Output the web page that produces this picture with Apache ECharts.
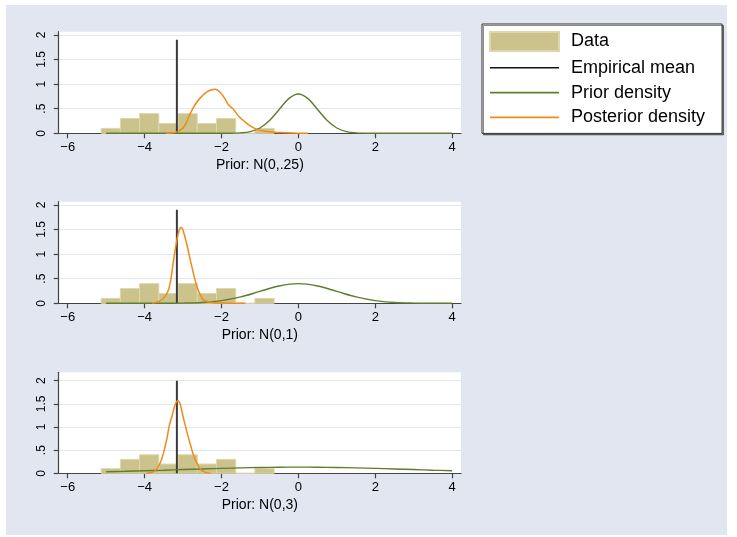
<!DOCTYPE html>
<html><head><meta charset="utf-8">
<script src="https://cdn.jsdelivr.net/npm/echarts@6/dist/echarts.min.js"></script>
<style>html,body{margin:0;padding:0;background:#fff}#c{width:737px;height:537px}</style>
</head><body><div id="c"></div>
<script>
// ---- data ----
var binLeft = [-5.13, -4.63, -4.13, -3.63, -3.13, -2.63, -2.13, -1.63, -1.13];
var binWidth = 0.5;
var binHeight = [0.1, 0.3, 0.4, 0.2, 0.4, 0.2, 0.3, 0, 0.1];
var empiricalMean = -3.16;
var meanLineTop = [1.9, 1.9, 2.0];
var panelTitles = ['Prior: N(0,.25)', 'Prior: N(0,1)', 'Prior: N(0,3)'];
var xTickValues = [-6, -4, -2, 0, 2, 4];
var xTickLabels = ['\u22126', '\u22124', '\u22122', '0', '2', '4'];
var yTickValues = [0, 0.5, 1, 1.5, 2];
var yTickLabels = ['0', '.5', '1', '1.5', '2'];

var prior1X = [-5, -2.5, -2, -1.75, -1.5, -1.25, -1, -0.75, -0.5, -0.25, 0, 0.25, 0.5, 0.75, 1, 1.25, 1.5, 1.75, 2, 2.5, 4];
var prior1Y = [0, 0, 0.0003, 0.002, 0.009, 0.035, 0.108, 0.26, 0.484, 0.704, 0.798, 0.704, 0.484, 0.26, 0.108, 0.035, 0.009, 0.002, 0.0003, 0, 0];
var prior2X = [-5, -4.5, -4, -3.5, -3, -2.5, -2, -1.5, -1, -0.5, 0, 0.5, 1, 1.5, 2, 2.5, 3, 3.5, 4];
var prior2Y = [0, 0, 0.0001, 0.0009, 0.0044, 0.0175, 0.054, 0.1295, 0.242, 0.352, 0.399, 0.352, 0.242, 0.1295, 0.054, 0.0175, 0.0044, 0.0009, 0.0001];
var prior3X = [-5, -4.5, -4, -3.5, -3, -2.5, -2, -1.5, -1, -0.5, 0, 0.5, 1, 1.5, 2, 2.5, 3, 3.5, 4];
var prior3Y = [0.033, 0.043, 0.055, 0.067, 0.081, 0.094, 0.106, 0.117, 0.126, 0.131, 0.133, 0.131, 0.126, 0.117, 0.106, 0.094, 0.081, 0.067, 0.055];

var post1X = [-3.45, -3.3, -3.16, -3.0, -2.9, -2.82, -2.68, -2.55, -2.38, -2.25, -2.16, -2.03, -1.9, -1.82, -1.69, -1.56, -1.43, -1.25, -1.08, -0.82, -0.47, -0.1, 0.25];
var post1Y = [0, 0.005, 0.03, 0.11, 0.24, 0.39, 0.59, 0.72, 0.84, 0.885, 0.894, 0.83, 0.69, 0.58, 0.49, 0.35, 0.26, 0.15, 0.08, 0.035, 0.015, 0.005, 0];
var post2X = [-3.8, -3.6, -3.47, -3.38, -3.32, -3.25, -3.16, -3.09, -3.05, -2.99, -2.90, -2.82, -2.73, -2.64, -2.55, -2.47, -2.29, -2.03, -1.7, -1.38];
var post2Y = [0, 0.05, 0.135, 0.27, 0.47, 0.85, 1.29, 1.51, 1.54, 1.46, 1.19, 0.91, 0.61, 0.34, 0.17, 0.07, 0.02, 0.005, 0.002, 0];
var post3X = [-3.95, -3.73, -3.6, -3.51, -3.42, -3.35, -3.29, -3.21, -3.135, -3.08, -2.99, -2.9, -2.82, -2.73, -2.64, -2.55, -2.42, -2.29];
var post3Y = [0, 0.05, 0.215, 0.43, 0.75, 1.06, 1.22, 1.47, 1.566, 1.51, 1.19, 0.9, 0.65, 0.4, 0.22, 0.09, 0.02, 0];

// ---- layout / style ----
var FONT = "'Liberation Sans', Arial, Helvetica, sans-serif";
var BAR_FILL = '#cbc38b', BAR_EDGE = '#ddd8ab';
var GREEN = '#5e7d2e', ORANGE = '#f08a1a', MEANC = '#3a3a3a';
var grids = [
  {left: 58.7, top: 31.7, width: 402.3, height: 101.6, ymax: 2.065},
  {left: 58.7, top: 201.7, width: 402.3, height: 101.6, ymax: 2.065},
  {left: 58.7, top: 372.3, width: 402.3, height: 101.0, ymax: 2.18}
];
var priorsX = [prior1X, prior2X, prior3X], priorsY = [prior1Y, prior2Y, prior3Y];
var postsX = [post1X, post2X, post3X], postsY = [post1Y, post2Y, post3Y];

function zip(a, b) { return a.map(function (v, i) { return [v, b[i]]; }); }
var histData = binLeft.map(function (l, i) { return [l, l + binWidth, binHeight[i]]; });

var LINE_ICON = 'path://M0,0L69,0L69,1.6L0,1.6Z';

var option = {
  backgroundColor: '#ffffff',
  animation: false,
  textStyle: {fontFamily: FONT},
  graphic: [{type: 'rect', z: -10, silent: true, shape: {x: 6, y: 5, width: 721, height: 530}, style: {fill: '#e1e6f0'}}],
  legend: {
    left: 482, top: 24, orient: 'vertical',
    backgroundColor: '#fff', borderColor: '#333', borderWidth: 1,
    shadowColor: 'rgba(0,0,0,0.45)', shadowOffsetX: 1.5, shadowOffsetY: 1.5, shadowBlur: 0,
    padding: [7, 17, 7, 7],
    itemWidth: 69, itemHeight: 19, itemGap: 6.8,
    symbolKeepAspect: true,
    textStyle: {fontSize: 18, color: '#000', fontFamily: FONT, padding: [0, 0, 0, 7]},
    selectedMode: false,
    data: [
      {name: 'Data', icon: 'rect'},
      {name: 'Empirical mean', icon: LINE_ICON, itemStyle: {color: '#111'}},
      {name: 'Prior density', icon: LINE_ICON, itemStyle: {color: GREEN}},
      {name: 'Posterior density', icon: LINE_ICON, itemStyle: {color: ORANGE}}
    ]
  },
  grid: [], xAxis: [], yAxis: [], series: []
};

grids.forEach(function (g, i) {
  option.grid.push({left: g.left, top: g.top, width: g.width, height: g.height, show: true, backgroundColor: '#fff', borderWidth: 0, containLabel: false});
  option.xAxis.push({
    type: 'value', gridIndex: i, min: -6.234, max: 4.23,
    name: panelTitles[i], nameLocation: 'middle', nameGap: 25,
    nameTextStyle: {fontSize: 14, color: '#000', fontFamily: FONT},
    axisLine: {show: true, onZero: false, lineStyle: {color: '#444', width: 1.2}},
    axisTick: {show: true, length: 5, customValues: xTickValues, lineStyle: {color: '#444', width: 1.2}},
    axisLabel: {show: true, customValues: xTickValues, margin: 8, fontSize: 13, color: '#000', fontFamily: FONT,
      formatter: function (v) { var k = xTickValues.indexOf(v); return k >= 0 ? xTickLabels[k] : ''; }},
    splitLine: {show: false}
  });
  option.yAxis.push({
    type: 'value', gridIndex: i, min: 0, max: g.ymax,
    axisLine: {show: true, onZero: false, lineStyle: {color: '#444', width: 1.2}},
    axisTick: {show: true, length: 5, customValues: yTickValues, lineStyle: {color: '#444', width: 1.2}},
    axisLabel: {show: true, customValues: yTickValues, rotate: 90, margin: 11, fontSize: 12, color: '#000', fontFamily: FONT,
      formatter: function (v) { for (var k = 0; k < yTickValues.length; k++) { if (Math.abs(yTickValues[k] - v) < 1e-9) return yTickLabels[k]; } return ''; }},
    splitLine: {show: true, lineStyle: {color: '#e2e6ef', width: 1.2}}
  });
  option.series.push({
    name: 'Data', type: 'custom', xAxisIndex: i, yAxisIndex: i, z: 2,
    itemStyle: {color: BAR_FILL, borderColor: BAR_EDGE, borderWidth: 1},
    encode: {x: [0, 1], y: 2},
    data: histData,
    renderItem: function (params, api) {
      var p0 = api.coord([api.value(0), api.value(2)]);
      var p1 = api.coord([api.value(1), 0]);
      return {type: 'rect', shape: {x: p0[0], y: p0[1], width: p1[0] - p0[0], height: p1[1] - p0[1]},
        style: {fill: BAR_FILL, stroke: BAR_EDGE, lineWidth: 1}};
    }
  });
  option.series.push({
    name: 'Empirical mean', type: 'line', xAxisIndex: i, yAxisIndex: i, z: 3,
    symbol: 'none', lineStyle: {color: MEANC, width: 2}, itemStyle: {color: '#111'},
    data: [[empiricalMean, 0], [empiricalMean, meanLineTop[i]]]
  });
  option.series.push({
    name: 'Prior density', type: 'line', xAxisIndex: i, yAxisIndex: i, z: 4,
    symbol: 'none', smooth: 0.35, lineStyle: {color: GREEN, width: 1.4}, itemStyle: {color: GREEN},
    data: zip(priorsX[i], priorsY[i])
  });
  option.series.push({
    name: 'Posterior density', type: 'line', xAxisIndex: i, yAxisIndex: i, z: 5,
    symbol: 'none', smooth: 0.35, lineStyle: {color: ORANGE, width: 1.5}, itemStyle: {color: ORANGE},
    data: zip(postsX[i], postsY[i])
  });
});

var chart = echarts.init(document.getElementById('c'), null, {renderer: 'canvas'});
chart.setOption(option);
</script>
</body></html>
